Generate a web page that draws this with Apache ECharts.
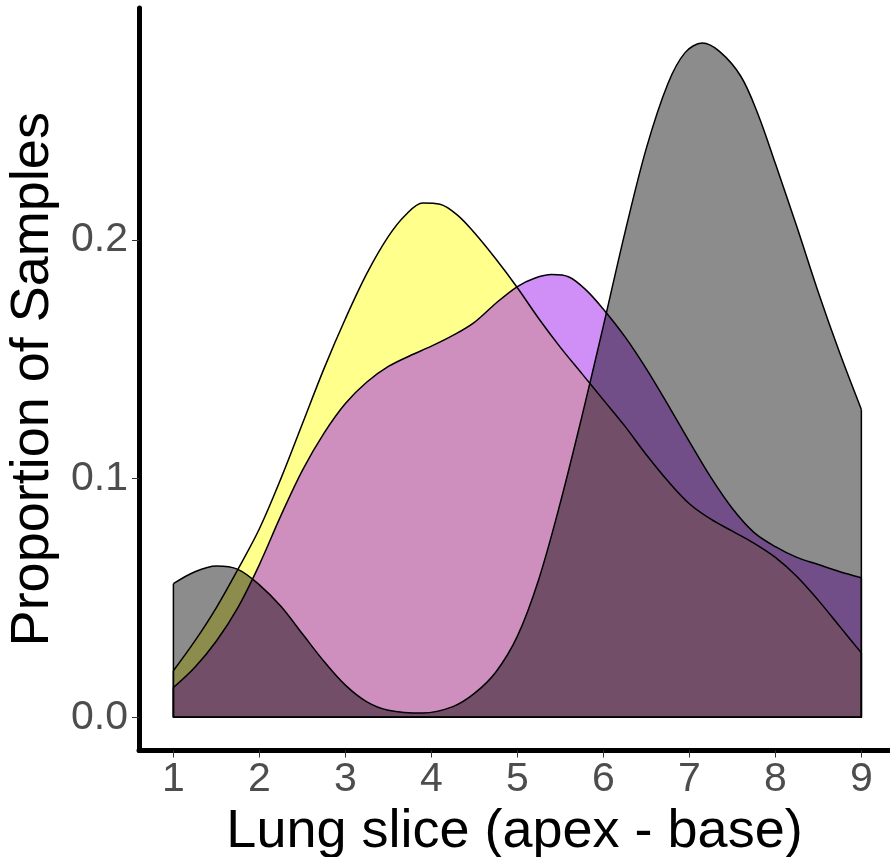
<!DOCTYPE html>
<html>
<head>
<meta charset="utf-8">
<script src="https://cdn.jsdelivr.net/npm/echarts@6.0.0/dist/echarts.min.js"></script>
<style>
  html, body { margin: 0; padding: 0; background: #fff; }
  #main { width: 890px; height: 857px; }
</style>
</head>
<body>
<div id="main"></div>
<script>
// proportion of samples per lung slice (apex -> base).
// each group keeps its own slice positions so peaks and dips are sampled
const yellowX = [1, 1.25, 1.5, 1.75, 2, 2.25, 2.5, 2.75, 3, 3.25, 3.5, 3.7, 3.9, 4.1, 4.3, 4.5, 4.75,
  5, 5.25, 5.5, 5.75, 6, 6.25, 6.5, 6.75, 7, 7.25, 7.5, 7.75, 8, 8.25, 8.5, 8.75, 9];
const yellowY = [0.0195, 0.032, 0.046, 0.062, 0.079, 0.100, 0.123, 0.146, 0.167, 0.186, 0.2015, 0.2105, 0.2155,
  0.2150, 0.2105, 0.203, 0.192, 0.180, 0.167, 0.155, 0.144, 0.133, 0.122, 0.110, 0.099, 0.0895, 0.083,
  0.078, 0.073, 0.067, 0.059, 0.049, 0.038, 0.027];

const purpleX = [1, 1.25, 1.5, 1.75, 2, 2.25, 2.5, 2.75, 3, 3.25, 3.5, 3.75, 4, 4.25, 4.5, 4.75,
  5, 5.2, 5.4, 5.6, 5.8, 6, 6.25, 6.5, 6.75, 7, 7.25, 7.5, 7.75, 8, 8.25, 8.5, 8.75, 9];
const purpleY = [0.0125, 0.021, 0.032, 0.046, 0.064, 0.0845, 0.1035, 0.119, 0.1315, 0.1405, 0.147, 0.1515, 0.1555,
  0.160, 0.1655, 0.1735, 0.1805, 0.1840, 0.1855, 0.1845, 0.179, 0.171, 0.1595, 0.146, 0.131, 0.1155, 0.1005,
  0.0875, 0.0775, 0.0715, 0.067, 0.064, 0.061, 0.0585];

const grayX = [1, 1.25, 1.5, 1.75, 2, 2.25, 2.5, 2.75, 3, 3.25, 3.5, 3.9, 4.25, 4.5, 4.75,
  5, 5.25, 5.5, 5.75, 6, 6.25, 6.5, 6.75, 6.95, 7.15, 7.35, 7.6, 7.8, 8, 8.25, 8.5, 8.75, 9];
const grayY = [0.056, 0.061, 0.0634, 0.062, 0.0555, 0.0465, 0.035, 0.0235, 0.0135, 0.0065, 0.003, 0.0018, 0.0045,
  0.010, 0.019, 0.034, 0.058, 0.090, 0.126, 0.164, 0.203, 0.2385, 0.2655, 0.2785, 0.2825, 0.279, 0.2685,
  0.2525, 0.232, 0.2055, 0.178, 0.1525, 0.129];

const xTicks = [1, 2, 3, 4, 5, 6, 7, 8, 9];
const yTicks = [0, 0.1, 0.2];

const font = 'Liberation Sans, Arial, sans-serif';
const myChart = echarts.init(document.getElementById('main'), null, { renderer: 'canvas' });

// one density = smoothed filled curve + straight sides and bottom outline
function density(xs, ys, color, alpha) {
  const pts = xs.map((x, i) => [x, ys[i]]);
  const first = xs[0], last = xs[xs.length - 1];
  return [
    {
      type: 'line',
      data: pts,
      smooth: 0.34,
      showSymbol: false,
      silent: true,
      lineStyle: { color: '#000', width: 1.5 },
      areaStyle: { color: color, opacity: alpha, origin: 'auto' }
    },
    {
      type: 'line',
      data: [[first, ys[0]], [first, 0], [last, 0], [last, ys[ys.length - 1]]],
      showSymbol: false,
      silent: true,
      lineStyle: { color: '#000', width: 1.5 }
    }
  ];
}

const option = {
  backgroundColor: '#fff',
  animation: false,
  grid: { left: 139, right: 0, top: 8, bottom: 106.5, outerBoundsMode: 'none', containLabel: false },
  xAxis: {
    type: 'value',
    min: 0.6,
    max: 9.333,
    name: 'Lung slice (apex - base)',
    nameLocation: 'middle',
    nameGap: 50,
    nameTextStyle: { fontFamily: font, fontSize: 54, color: '#000' },
    axisLine: { onZero: false, lineStyle: { color: '#000', width: 5, cap: 'round' } },
    axisTick: { customValues: xTicks, length: 7, lineStyle: { color: '#333', width: 1 } },
    axisLabel: { customValues: xTicks, margin: 9, fontFamily: font, fontSize: 41, color: '#4d4d4d' },
    splitLine: { show: false }
  },
  yAxis: {
    type: 'value',
    min: -0.0139,
    max: 0.2972,
    name: 'Proportion of Samples',
    nameLocation: 'middle',
    nameGap: 66,
    nameTextStyle: { fontFamily: font, fontSize: 54, color: '#000' },
    axisLine: { show: true, onZero: false, lineStyle: { color: '#000', width: 5, cap: 'round' } },
    axisTick: { show: true, customValues: yTicks, length: 7, lineStyle: { color: '#333', width: 1 } },
    axisLabel: {
      customValues: yTicks, margin: 11, fontFamily: font, fontSize: 41, color: '#4d4d4d',
      formatter: v => v.toFixed(1)
    },
    splitLine: { show: false }
  },
  series: [
    ...density(yellowX, yellowY, '#ffff00', 0.45),
    ...density(purpleX, purpleY, '#a020f0', 0.5),
    ...density(grayX, grayY, '#000000', 0.45)
  ]
};

myChart.setOption(option);
</script>
</body>
</html>
